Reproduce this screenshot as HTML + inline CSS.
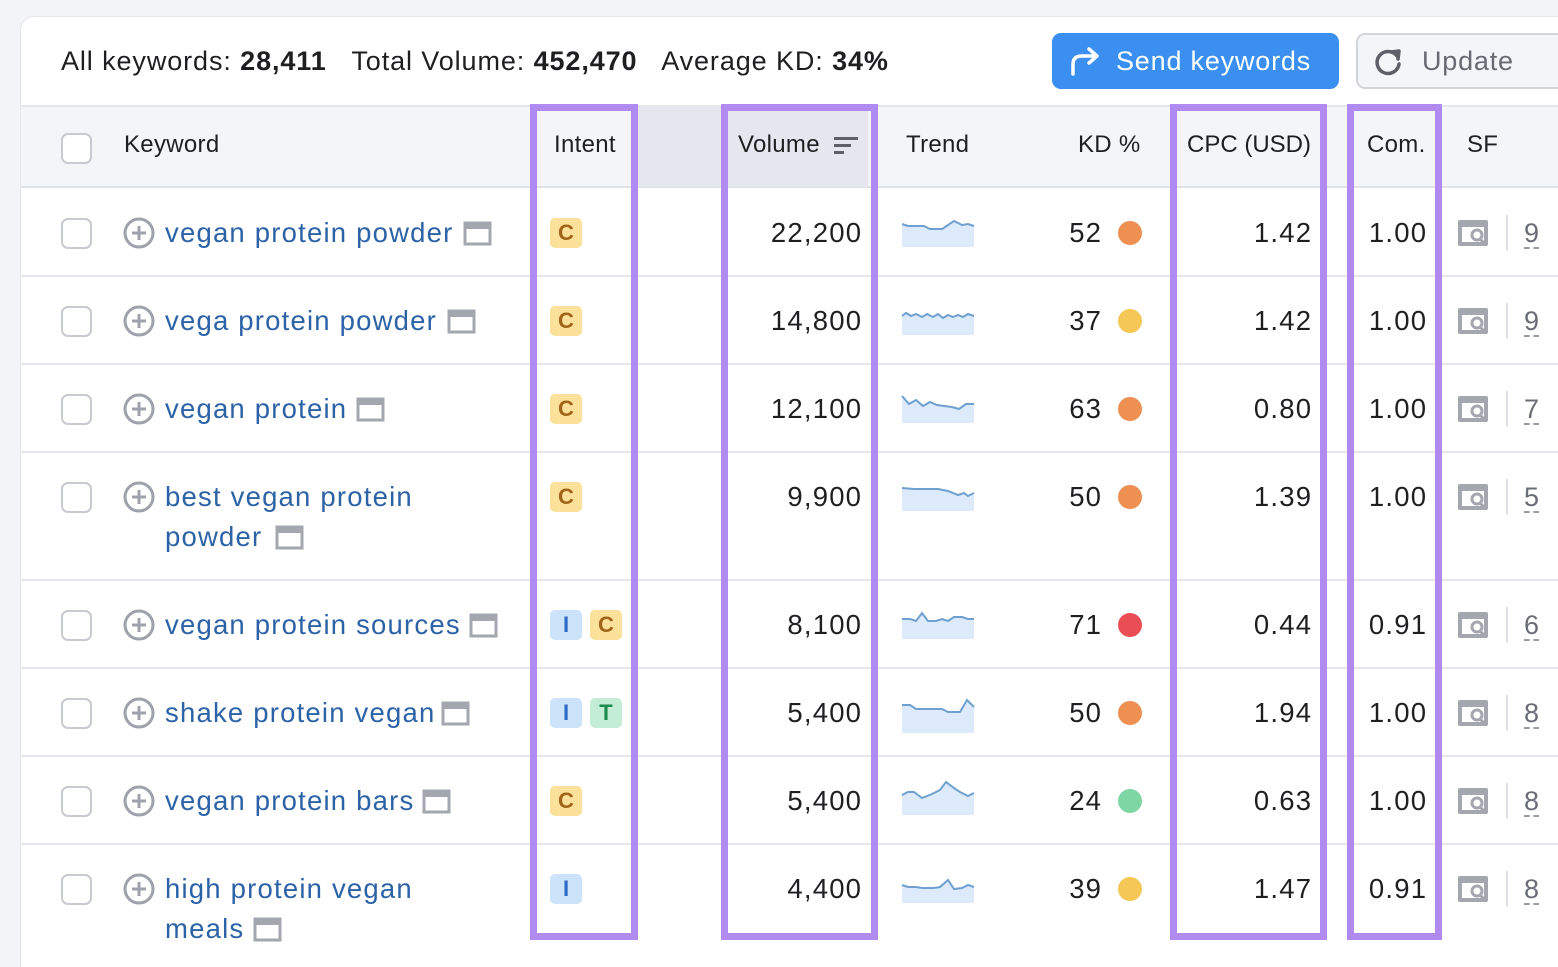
<!DOCTYPE html>
<html><head><meta charset="utf-8"><style>
*{margin:0;padding:0;box-sizing:border-box}
html,body{width:1558px;height:967px;overflow:hidden}
body{background:#f3f4f8;font-family:"Liberation Sans",sans-serif;position:relative;color:#1f1f22}
.card{position:absolute;left:20px;top:16px;width:1538px;height:951px;background:#fff;border-radius:14px 0 0 0;border-left:1px solid #e4e6ec;border-top:1px solid #e4e6ec}
.a{position:absolute;white-space:nowrap}
.hdr{position:absolute;left:21px;top:105px;width:1537px;height:83px;background:#f4f5f9;border-top:2px solid #e6e7ec;border-bottom:2px solid #e2e3e8}
.sorted{position:absolute;left:638px;top:107px;width:230px;height:80px;background:#e6e7ee}
.line{position:absolute;left:21px;width:1537px;height:2px;background:#e6e7eb}
.cb{position:absolute;left:61px;width:31px;height:31px;border:2px solid #c8cad2;border-radius:7px;background:#fff}
.t{font-size:27.5px;line-height:30px;letter-spacing:1.2px}
.h{font-size:24px;letter-spacing:0.3px}
.kw{color:#2c62a6}
.r{text-align:right;margin-right:-1.2px}
.bd{position:absolute;width:32px;height:30px;border-radius:5px;font-size:22px;font-weight:bold;text-align:center;line-height:30px}
.C{background:#fbe19a;color:#a3651c}.I{background:#cde3fa;color:#2d6bc5}.T{background:#c3eed5;color:#1d8a50}
.dot{position:absolute;left:1118px;width:24px;height:24px;border-radius:50%}
.pb{position:absolute;border:7px solid #b089f1}
.sfn{position:absolute;left:1524px;font-size:27px;color:#6b6d75;border-bottom:2px dashed #9a9ca3;line-height:28px}
.sep{position:absolute;left:1506px;width:2px;height:36px;background:#e0e1e6}
</style></head><body>
<div class="card"></div>
<div class="a" style="left:61px;top:46px;font-size:27px;line-height:30px;letter-spacing:0.9px">All keywords: <b>28,411</b>&nbsp;&nbsp; Total Volume: <b>452,470</b>&nbsp;&nbsp; Average KD: <b>34%</b></div>
<div class="a" style="left:1052px;top:33px;width:287px;height:56px;background:#3a8ff0;border-radius:9px;color:#fff;font-size:27px;line-height:56px;padding-left:64px;letter-spacing:0.8px">Send keywords</div>
<svg class="a" style="left:1068px;top:44px" width="34" height="34" viewBox="0 0 34 34"><path d="M5 30 V20 Q5 12 14 12 H28 M21 5 L29 12 L21 19" fill="none" stroke="#fff" stroke-width="3.5" stroke-linecap="round" stroke-linejoin="round"/></svg>
<div class="a" style="left:1356px;top:33px;width:202px;height:56px;background:#f4f5f8;border:2px solid #d2d4da;border-right:none;border-radius:9px 0 0 9px;color:#676a72;font-size:27px;line-height:52px;padding-left:64px;letter-spacing:0.8px">Update</div>
<svg class="a" style="left:1372px;top:46px" width="32" height="32" viewBox="0 0 32 32"><path d="M25 10 A11 11 0 1 0 27 18" fill="none" stroke="#5d6068" stroke-width="3.5" stroke-linecap="round"/><path d="M19 6 L27 5 L26 13" fill="none" stroke="#5d6068" stroke-width="3.5" stroke-linejoin="round" stroke-linecap="round"/></svg>

<div class="hdr"></div><div class="sorted"></div>
<div class="cb" style="top:133px"></div>
<div class="a t h" style="left:124px;top:130px">Keyword</div>
<div class="a t h" style="left:554px;top:130px">Intent</div>
<div class="a t h" style="left:738px;top:130px">Volume</div>
<svg class="a" style="left:833px;top:135px" width="26" height="22"><rect x="1" y="2" width="24" height="3" fill="#5d6068"/><rect x="1" y="9" width="17" height="3" fill="#5d6068"/><rect x="1" y="16" width="10" height="3" fill="#5d6068"/></svg>
<div class="a t h" style="left:906px;top:130px">Trend</div>
<div class="a t h" style="left:1078px;top:130px">KD %</div>
<div class="a t h" style="left:1187px;top:130px;letter-spacing:0">CPC (USD)</div>
<div class="a t h" style="left:1367px;top:130px">Com.</div>
<div class="a t h" style="left:1467px;top:130px">SF</div>

<div class="line" style="top:275px"></div><div class="line" style="top:363px"></div><div class="line" style="top:451px"></div><div class="line" style="top:579px"></div><div class="line" style="top:667px"></div><div class="line" style="top:755px"></div><div class="line" style="top:843px"></div>

<div class="cb" style="top:218px"></div><div class="cb" style="top:306px"></div><div class="cb" style="top:394px"></div><div class="cb" style="top:482px"></div><div class="cb" style="top:610px"></div><div class="cb" style="top:698px"></div><div class="cb" style="top:786px"></div><div class="cb" style="top:874px"></div>

<svg class="a" style="left:0;top:0" width="1558" height="967">
<defs>
<g id="pl"><circle cx="0" cy="0" r="14" fill="none" stroke="#9fa2aa" stroke-width="3"/><path d="M-7 0H7M0 -7V7" stroke="#9fa2aa" stroke-width="3"/></g>
<g id="ic"><rect x="0" y="-11" width="25" height="21" fill="none" stroke="#a5a7ae" stroke-width="3"/><rect x="0" y="-11" width="25" height="6" fill="#a5a7ae"/></g>
<g id="sf"><rect x="0" y="-14" width="30" height="26" rx="2" fill="#a5a7ae"/><rect x="4" y="-7" width="22" height="15" fill="#fff"/><circle cx="19" cy="1" r="5" fill="none" stroke="#a5a7ae" stroke-width="3"/><path d="M22 5 L27 10" stroke="#a5a7ae" stroke-width="3"/></g>
</defs>
<use href="#pl" x="139" y="233"/><use href="#pl" x="139" y="321"/><use href="#pl" x="139" y="409"/><use href="#pl" x="139" y="497"/><use href="#pl" x="139" y="625"/><use href="#pl" x="139" y="713"/><use href="#pl" x="139" y="801"/><use href="#pl" x="139" y="889"/>
<use href="#ic" x="465" y="234"/><use href="#ic" x="449" y="322"/><use href="#ic" x="358" y="410"/><use href="#ic" x="277" y="538"/><use href="#ic" x="471" y="626"/><use href="#ic" x="443" y="714"/><use href="#ic" x="424" y="802"/><use href="#ic" x="255" y="930"/>
<use href="#sf" x="1458" y="234"/><use href="#sf" x="1458" y="322"/><use href="#sf" x="1458" y="410"/><use href="#sf" x="1458" y="498"/><use href="#sf" x="1458" y="626"/><use href="#sf" x="1458" y="714"/><use href="#sf" x="1458" y="802"/><use href="#sf" x="1458" y="890"/>
<g fill="#dceafb" stroke="none">
<polygon transform="translate(902,219)" points="0,5 6,7 22,7 28,10 40,10 52,2 60,6 66,5 72,7 72,28 0,28"/>
<polygon transform="translate(902,307)" points="0,9 4,6 9,9 14,7 20,10 25,7 31,10 36,7 41,11 46,8 51,10 56,8 61,10 66,7 72,9 72,28 0,28"/>
<polygon transform="translate(902,395)" points="0,1 7,9 14,5 21,11 28,7 35,10 42,11 50,12 57,14 64,9 72,9 72,28 0,28"/>
<polygon transform="translate(902,483)" points="0,5 12,6 36,6 46,8 56,12 62,10 66,13 72,10 72,28 0,28"/>
<polygon transform="translate(902,611)" points="0,8 8,8 14,10 20,2 26,10 34,10 40,8 46,10 52,6 60,6 66,8 72,8 72,28 0,28"/>
<polygon transform="translate(902,699)" points="0,6 8,6 14,10 40,10 46,13 58,13 65,1 72,8 72,34 0,34"/>
<polygon transform="translate(902,787)" points="0,8 6,5 12,5 20,11 30,7 38,3 44,-5 52,1 58,5 66,9 72,6 72,28 0,28"/>
<polygon transform="translate(902,875)" points="0,10 6,12 14,12 20,13 32,13 38,12 46,5 52,14 60,13 66,10 72,12 72,28 0,28"/>
</g>
<g fill="none" stroke="#6fa0d0" stroke-width="2">
<polyline transform="translate(902,219)" points="0,5 6,7 22,7 28,10 40,10 52,2 60,6 66,5 72,7"/>
<polyline transform="translate(902,307)" points="0,9 4,6 9,9 14,7 20,10 25,7 31,10 36,7 41,11 46,8 51,10 56,8 61,10 66,7 72,9"/>
<polyline transform="translate(902,395)" points="0,1 7,9 14,5 21,11 28,7 35,10 42,11 50,12 57,14 64,9 72,9"/>
<polyline transform="translate(902,483)" points="0,5 12,6 36,6 46,8 56,12 62,10 66,13 72,10"/>
<polyline transform="translate(902,611)" points="0,8 8,8 14,10 20,2 26,10 34,10 40,8 46,10 52,6 60,6 66,8 72,8"/>
<polyline transform="translate(902,699)" points="0,6 8,6 14,10 40,10 46,13 58,13 65,1 72,8"/>
<polyline transform="translate(902,787)" points="0,8 6,5 12,5 20,11 30,7 38,3 44,-5 52,1 58,5 66,9 72,6"/>
<polyline transform="translate(902,875)" points="0,10 6,12 14,12 20,13 32,13 38,12 46,5 52,14 60,13 66,10 72,12"/>
</g>
</svg>

<div class="a t kw" style="left:165px;top:218px">vegan protein powder</div>
<div class="a t kw" style="left:165px;top:306px">vega protein powder</div>
<div class="a t kw" style="left:165px;top:394px">vegan protein</div>
<div class="a t kw" style="left:165px;top:482px">best vegan protein</div>
<div class="a t kw" style="left:165px;top:522px">powder</div>
<div class="a t kw" style="left:165px;top:610px">vegan protein sources</div>
<div class="a t kw" style="left:165px;top:698px">shake protein vegan</div>
<div class="a t kw" style="left:165px;top:786px">vegan protein bars</div>
<div class="a t kw" style="left:165px;top:874px">high protein vegan</div>
<div class="a t kw" style="left:165px;top:914px">meals</div>

<div class="bd C" style="left:550px;top:218px">C</div>
<div class="bd C" style="left:550px;top:306px">C</div>
<div class="bd C" style="left:550px;top:394px">C</div>
<div class="bd C" style="left:550px;top:482px">C</div>
<div class="bd I" style="left:550px;top:610px">I</div><div class="bd C" style="left:590px;top:610px">C</div>
<div class="bd I" style="left:550px;top:698px">I</div><div class="bd T" style="left:590px;top:698px">T</div>
<div class="bd C" style="left:550px;top:786px">C</div>
<div class="bd I" style="left:550px;top:874px">I</div>

<div class="a t r" style="right:697px;top:218px">22,200</div>
<div class="a t r" style="right:697px;top:306px">14,800</div>
<div class="a t r" style="right:697px;top:394px">12,100</div>
<div class="a t r" style="right:697px;top:482px">9,900</div>
<div class="a t r" style="right:697px;top:610px">8,100</div>
<div class="a t r" style="right:697px;top:698px">5,400</div>
<div class="a t r" style="right:697px;top:786px">5,400</div>
<div class="a t r" style="right:697px;top:874px">4,400</div>

<div class="a t r" style="right:457px;top:218px">52</div><div class="dot" style="top:221px;background:#ee9052"></div>
<div class="a t r" style="right:457px;top:306px">37</div><div class="dot" style="top:309px;background:#f4c757"></div>
<div class="a t r" style="right:457px;top:394px">63</div><div class="dot" style="top:397px;background:#ee9052"></div>
<div class="a t r" style="right:457px;top:482px">50</div><div class="dot" style="top:485px;background:#ee9052"></div>
<div class="a t r" style="right:457px;top:610px">71</div><div class="dot" style="top:613px;background:#eb4d55"></div>
<div class="a t r" style="right:457px;top:698px">50</div><div class="dot" style="top:701px;background:#ee9052"></div>
<div class="a t r" style="right:457px;top:786px">24</div><div class="dot" style="top:789px;background:#7dd6a4"></div>
<div class="a t r" style="right:457px;top:874px">39</div><div class="dot" style="top:877px;background:#f4c757"></div>

<div class="a t r" style="right:247px;top:218px">1.42</div>
<div class="a t r" style="right:247px;top:306px">1.42</div>
<div class="a t r" style="right:247px;top:394px">0.80</div>
<div class="a t r" style="right:247px;top:482px">1.39</div>
<div class="a t r" style="right:247px;top:610px">0.44</div>
<div class="a t r" style="right:247px;top:698px">1.94</div>
<div class="a t r" style="right:247px;top:786px">0.63</div>
<div class="a t r" style="right:247px;top:874px">1.47</div>

<div class="a t r" style="right:132px;top:218px">1.00</div>
<div class="a t r" style="right:132px;top:306px">1.00</div>
<div class="a t r" style="right:132px;top:394px">1.00</div>
<div class="a t r" style="right:132px;top:482px">1.00</div>
<div class="a t r" style="right:132px;top:610px">0.91</div>
<div class="a t r" style="right:132px;top:698px">1.00</div>
<div class="a t r" style="right:132px;top:786px">1.00</div>
<div class="a t r" style="right:132px;top:874px">0.91</div>

<div class="sep" style="top:215px"></div><div class="sfn" style="top:219px">9</div>
<div class="sep" style="top:303px"></div><div class="sfn" style="top:307px">9</div>
<div class="sep" style="top:391px"></div><div class="sfn" style="top:395px">7</div>
<div class="sep" style="top:479px"></div><div class="sfn" style="top:483px">5</div>
<div class="sep" style="top:607px"></div><div class="sfn" style="top:611px">6</div>
<div class="sep" style="top:695px"></div><div class="sfn" style="top:699px">8</div>
<div class="sep" style="top:783px"></div><div class="sfn" style="top:787px">8</div>
<div class="sep" style="top:871px"></div><div class="sfn" style="top:875px">8</div>

<div class="pb" style="left:530px;top:104px;width:108px;height:836px"></div>
<div class="pb" style="left:721px;top:104px;width:157px;height:836px"></div>
<div class="pb" style="left:1170px;top:104px;width:157px;height:836px"></div>
<div class="pb" style="left:1347px;top:104px;width:95px;height:836px"></div>
</body></html>
